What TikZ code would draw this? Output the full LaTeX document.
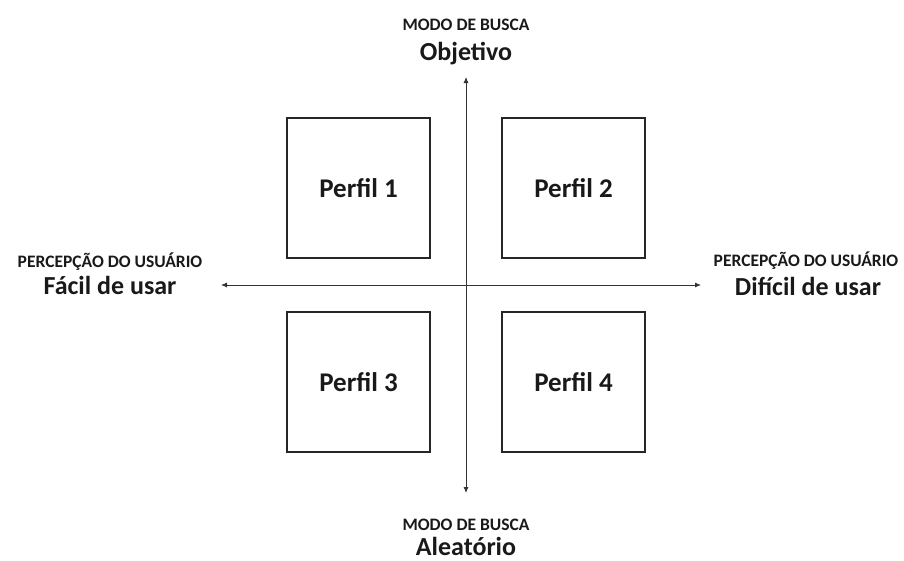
\documentclass[tikz,border=0pt]{standalone}
\usepackage{fontspec}
\setmainfont{Carlito}
\usetikzlibrary{arrows.meta}
\begin{document}
\begin{tikzpicture}[x=1pt,y=-1pt,
  quad/.style={draw=black!85,line width=1.4pt,minimum width=143pt,minimum height=140pt,inner sep=0pt,font=\bfseries\fontsize{27}{30}\selectfont,text=black!90},
  axis/.style={draw=black!80,line width=0.8pt,-{Latex[length=6pt,width=5pt]}},
  small/.style={font=\bfseries\fontsize{17.5}{19}\selectfont,text=black!90,inner sep=0pt,anchor=base},
  big/.style={font=\bfseries\fontsize{26}{28}\selectfont,text=black!90,inner sep=0pt,anchor=base}]
\useasboundingbox (0,0) rectangle (904,560);
\coordinate (c) at (466,285);
\coordinate (top) at (466,77);
\coordinate (bot) at (466,493);
\coordinate (lft) at (221,285);
\coordinate (rgt) at (701,285);
\draw[axis] (c) -- (top);
\draw[axis] (c) -- (bot);
\draw[axis] (c) -- (lft);
\draw[axis] (c) -- (rgt);
\node[quad] (p1) at (358.5,188) {Perfil 1};
\node[quad] (p2) at (573.5,188) {Perfil 2};
\node[quad] (p3) at (358.5,382) {Perfil 3};
\node[quad] (p4) at (573.5,382) {Perfil 4};
\node[small] (t1) at (466,30) {MODO DE BUSCA};
\node[big] (t2) at (466,60) {Objetivo};
\node[small] (b1) at (466,530) {MODO DE BUSCA};
\node[big] (b2) at (466,555) {Aleatório};
\node[small] (l1) at (110,267) {PERCEPÇÃO DO USUÁRIO};
\node[big] (l2) at (110,294) {Fácil de usar};
\node[small] (r1) at (806,266) {PERCEPÇÃO DO USUÁRIO};
\node[big] (r2) at (808,295) {Difícil de usar};
\end{tikzpicture}
\end{document}
